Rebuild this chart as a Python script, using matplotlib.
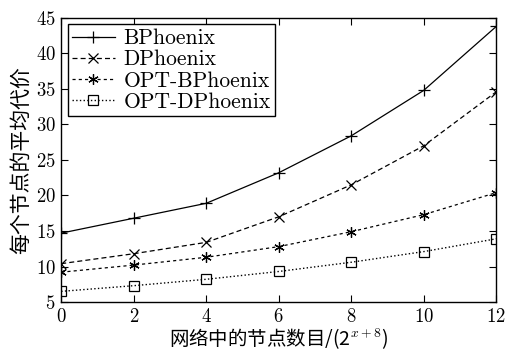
import matplotlib
matplotlib.use('Agg')
from matplotlib import pyplot as plt

plt.rcParams['font.family'] = ['cmr10', 'Noto Sans CJK SC', 'DejaVu Sans']
plt.rcParams['mathtext.fontset'] = 'cm'
plt.rcParams['axes.formatter.use_mathtext'] = True

# dados
x = [0, 2, 4, 6, 8, 10, 12]
bphoenix = [14.7, 16.8, 18.9, 23.2, 28.4, 34.8, 43.8]
dphoenix = [10.4, 11.8, 13.4, 17.0, 21.5, 27.0, 34.6]
opt_b = [9.2, 10.2, 11.3, 12.8, 14.9, 17.3, 20.4]
opt_d = [6.5, 7.3, 8.2, 9.3, 10.6, 12.1, 13.9]

fig = plt.figure(figsize=(5.1, 3.52), dpi=100)
ax = fig.add_axes([0.12, 0.142, 0.853, 0.807])

ax.plot(x, bphoenix, 'k-', marker='+', ms=8, mew=0.9, lw=0.9, label='BPhoenix')
ax.plot(x, dphoenix, 'k--', marker='x', ms=6.5, mew=0.9, lw=0.9, dashes=(4, 2.5), label='DPhoenix')
ax.plot(x, opt_b, 'k--', marker=(6, 2, 0), ms=7.5, mew=0.9, lw=0.9, dashes=(2.5, 2.5), label='OPT-BPhoenix')
ax.plot(x, opt_d, 'k:', marker='s', ms=6.5, mew=0.9, mfc='none', lw=1.0, label='OPT-DPhoenix')

ax.set_xlim(0, 12)
ax.set_ylim(5, 45)
ax.set_xticks(range(0, 13, 2))
ax.set_yticks(range(5, 46, 5))
ax.tick_params(direction='in', top=True, right=True, labelsize=13.5, length=5, pad=4)
for s in ax.spines.values():
    s.set_linewidth(1.0)

ax.set_xlabel('网络中的节点数目/(2$^{x+8}$)', fontsize=14, labelpad=0,
              family='Noto Sans CJK SC')
ax.set_ylabel('每个节点的平均代价', fontsize=15, labelpad=3)

leg = ax.legend(loc='upper left', fontsize=15.5, fancybox=False, edgecolor='k',
                framealpha=1, handlelength=2.0, borderpad=0.2, labelspacing=0.08,
                borderaxespad=0.3, handletextpad=0.4)
leg.get_frame().set_linewidth(1.0)

plt.savefig('out.png', dpi=100)
